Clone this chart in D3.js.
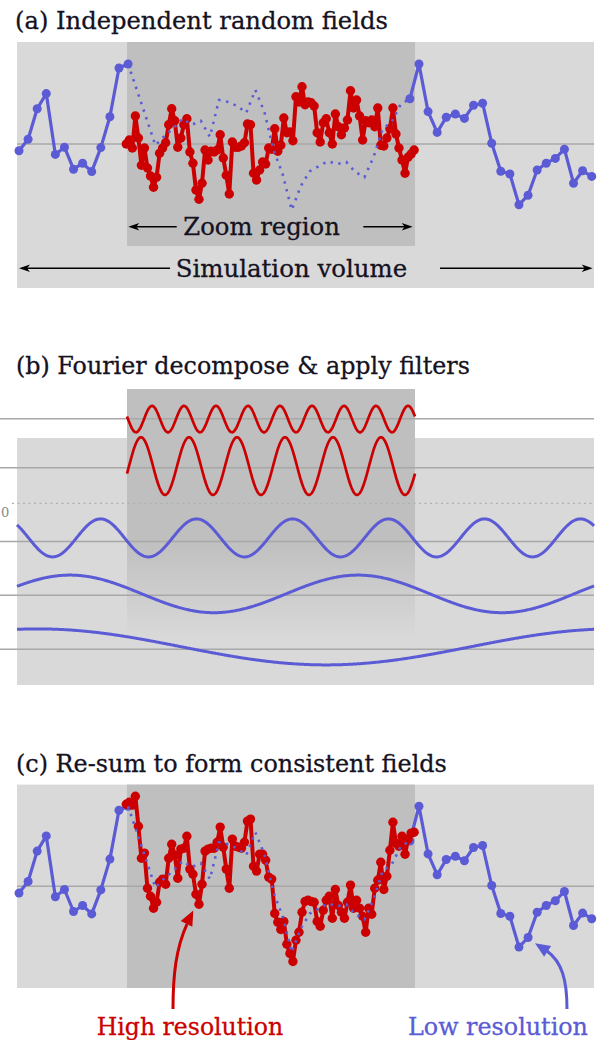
<!DOCTYPE html>
<html><head><meta charset="utf-8">
<script src="https://cdn.jsdelivr.net/npm/d3@7"></script>
<style>body{margin:0;background:#fff}svg{display:block}text{font-family:"DejaVu Serif",serif}</style>
</head><body><svg id="chart" width="615" height="1040"></svg>
<script>
// ---------------- DATA ----------------
// low-resolution field, one value per coarse cell (64 cells)
const coarseField = [-0.17,0.12,0.88,1.26,-0.26,-0.08,-0.63,-0.48,-0.69,-0.09,
  0.68,1.90,2.00,1.33,0.65,-0.03,0.20,0.40,0.63,0.48,
  0.58,0.18,1.10,1.05,0.95,0.78,1.35,0.80,-0.15,-0.75,
  -1.65,-1.05,-0.68,-0.55,-0.43,-0.50,-0.45,-0.70,-0.83,-0.33,
  0.38,0.55,1.00,1.13,2.00,0.81,0.29,0.67,0.75,0.64,
  0.97,1.02,0.02,-0.68,-0.75,-1.52,-1.28,-0.65,-0.48,-0.36,
  -0.13,-0.98,-0.67,-0.81];
// coarse cells shown dotted inside the zoom region
const zoomCoarseFirst = 12, zoomCoarseLast = 43;
// independent high-resolution field in the zoom region (96 fine cells)
const fineIndependent = [0.00,0.10,-0.10,0.70,0.15,-0.53,-0.10,-0.60,-0.80,-1.08,
  -0.83,-0.23,-0.10,0.03,0.48,0.88,0.58,-0.08,0.15,0.48,
  0.63,-0.20,-0.48,-1.15,-1.38,-0.98,-0.15,-0.40,-0.18,-0.20,
  -0.15,0.23,-0.35,-0.78,-1.25,0.05,-0.08,-0.08,-0.05,0.03,
  0.50,0.48,-0.73,-0.90,-0.65,-0.45,-0.50,-0.10,-0.13,0.38,
  -0.18,-0.03,0.65,0.28,0.30,0.08,1.18,1.05,1.43,0.98,
  1.05,1.03,0.95,0.28,0.05,0.53,0.63,0.28,0.00,0.75,
  0.43,0.23,0.40,0.60,1.33,0.90,1.10,0.70,0.10,0.58,
  0.53,0.60,0.43,0.90,-0.03,-0.05,0.15,0.38,0.90,0.25,
  -0.10,-0.40,-0.73,-0.33,-0.25,-0.15];
// consistent high-resolution field after re-summing
const fineConsistent = [2.05,2.10,2.03,2.25,1.50,0.70,0.83,-0.05,-0.25,-0.55,
  -0.40,0.10,0.18,0.05,0.70,1.05,0.78,0.20,0.93,0.95,
  1.25,0.43,0.30,-0.20,-0.45,0.05,0.88,0.93,0.95,0.95,
  1.10,1.48,0.98,0.43,-0.05,1.18,1.00,0.98,0.95,1.10,
  1.63,1.68,0.50,0.38,0.80,0.80,0.65,0.23,0.18,-0.68,
  -0.90,-1.08,-0.88,-1.45,-1.68,-1.88,-1.35,-1.15,-0.65,-0.38,
  -0.35,-0.38,-0.40,-0.88,-1.00,-0.60,-0.35,-0.25,-0.80,-0.08,
  -0.48,-0.65,-0.80,-0.40,0.03,-0.55,-0.35,-0.55,-0.75,-1.15,
  -0.55,-0.70,-0.05,0.15,0.60,-0.08,0.25,0.90,1.60,1.08,
  1.00,1.25,0.80,1.18,1.33,1.35];
// Fourier modes of panel (b): cycles per simulation volume, amplitude, peak position (volume fraction), mean offset
const modeKind    = ["high","high","low","low","low"];
const modeCycles  = [18, 12, 6, 2, 1];
const modeAmp     = [0.33, 0.72, 0.475, 0.47, 0.45];
const modePeak    = [0.2344, 0.2153, 0.145, 0.092, 0.0365];
const modeOffset  = [-0.01, 0.04, 0.09, 0.035, 0.06];
// texts
const titles = ["(a) Independent random fields","(b) Fourier decompose & apply filters","(c) Re-sum to form consistent fields"];
const labelZoom = "Zoom region", labelVolume = "Simulation volume";
const labelHigh = "High resolution", labelLow = "Low resolution", labelZero = "0";

// ---------------- LAYOUT ----------------
const BLUE = "#5b5bd6", RED = "#cc0000", LIGHT = "#d9d9d9", DARK = "#bfbfbf", LINE = "#a8a8a8";
const svg = d3.select("#chart");
const defs = svg.append("defs");
const volX0 = 17, volX1 = 594, zoomX0 = 127, zoomX1 = 415;
const xCoarse = d3.scaleLinear().domain([0, 63]).range([19, 591.7]);
const fineU = j => zoomCoarseFirst - 0.2 + j / 3;   // fine cell -> coarse coordinate
const xVol = d3.scaleLinear().domain([0, 1]).range([17, 593]);
const unit = 40;

function fitText(t, w) {
  const cur = t.node().getComputedTextLength();
  const fs = parseFloat(t.attr("font-size"));
  t.attr("font-size", fs * w / cur);
  return t;
}
function addText(str, x, y, w, color) {
  const c = color || "#15121f";
  const t = svg.append("text").attr("x", x).attr("y", y).attr("font-size", 24)
    .attr("fill", c).attr("stroke", c).attr("stroke-width", 0.3).text(str);
  return fitText(t, w);
}
function hArrow(x1, x2, y) {
  svg.append("line").attr("x1", x1).attr("x2", x2 - Math.sign(x2 - x1) * 6).attr("y1", y).attr("y2", y)
    .attr("stroke", "#000").attr("stroke-width", 1.5);
  const d = Math.sign(x2 - x1);
  svg.append("path").attr("d", `M${x2},${y} L${x2 - d * 11},${y - 3.8} L${x2 - d * 8},${y} L${x2 - d * 11},${y + 3.8} Z`)
    .attr("fill", "#000");
}

function fieldPanel(top, baseline, bottomLight, bottomDark, fine) {
  const y = d3.scaleLinear().domain([-1, 1]).range([baseline + unit, baseline - unit]);
  svg.append("rect").attr("x", volX0).attr("y", top).attr("width", volX1 - volX0).attr("height", bottomLight - top).attr("fill", LIGHT);
  svg.append("rect").attr("x", zoomX0).attr("y", top).attr("width", zoomX1 - zoomX0).attr("height", bottomDark - top).attr("fill", DARK);
  svg.append("line").attr("x1", volX0).attr("x2", volX1).attr("y1", y(0)).attr("y2", y(0)).attr("stroke", LINE).attr("stroke-width", 1.5);
  const coarsePts = coarseField.map((v, i) => ({ i, v }));
  const line = d3.line().x(d => xCoarse(d.i)).y(d => y(d.v));
  const left = coarsePts.filter(d => d.i <= zoomCoarseFirst);
  const right = coarsePts.filter(d => d.i >= zoomCoarseLast);
  const mid = coarsePts.filter(d => d.i >= zoomCoarseFirst && d.i <= zoomCoarseLast);
  [left, right].forEach(seg => {
    svg.append("path").attr("d", line(seg)).attr("fill", "none").attr("stroke", BLUE).attr("stroke-width", 3.2).attr("stroke-linejoin", "round");
    svg.append("g").selectAll("circle").data(seg).join("circle")
      .attr("cx", d => xCoarse(d.i)).attr("cy", d => y(d.v)).attr("r", 4.5).attr("fill", BLUE);
  });
  const finePts = fine.map((v, j) => ({ u: fineU(j), v }));
  const fline = d3.line().x(d => xCoarse(d.u)).y(d => y(d.v));
  svg.append("path").attr("d", fline(finePts)).attr("fill", "none").attr("stroke", RED).attr("stroke-width", 4).attr("stroke-linejoin", "round");
  svg.append("g").selectAll("circle").data(finePts).join("circle")
    .attr("cx", d => xCoarse(d.u)).attr("cy", d => y(d.v)).attr("r", 4.7).attr("fill", RED);
  svg.append("path").attr("d", line(mid)).attr("fill", "none").attr("stroke", BLUE).attr("stroke-width", 2.6)
    .attr("stroke-dasharray", "2.4 5.6");
  return y;
}

// ---- Panel (a)
addText(titles[0], 15, 28.5, 373);
fieldPanel(42, 144, 288, 246, fineIndependent);
hArrow(176.7, 128.3, 226.7);
hArrow(363.3, 412.7, 226.7);
addText(labelZoom, 183.3, 235, 156.7);
hArrow(170, 19, 268.3);
hArrow(440, 592.7, 268.3);
addText(labelVolume, 175.7, 277, 231.6);

// ---- Panel (b)
addText(titles[1], 16, 374, 454);
const grad = defs.append("linearGradient").attr("id", "fade").attr("x1", 0).attr("x2", 0).attr("y1", 0).attr("y2", 1);
grad.append("stop").attr("offset", 0).attr("stop-color", DARK).attr("stop-opacity", 1);
grad.append("stop").attr("offset", 0.6).attr("stop-color", DARK).attr("stop-opacity", 1);
grad.append("stop").attr("offset", 1).attr("stop-color", DARK).attr("stop-opacity", 0);
svg.append("rect").attr("x", volX0).attr("y", 438).attr("width", volX1 - volX0).attr("height", 685 - 438).attr("fill", LIGHT);
svg.append("rect").attr("x", zoomX0).attr("y", 389).attr("width", zoomX1 - zoomX0).attr("height", 640 - 389).attr("fill", "url(#fade)");
const rowY = [418.7, 467.7, 541.5, 595.3, 649.3];
rowY.forEach(ry => svg.append("line").attr("x1", 0).attr("x2", volX1).attr("y1", ry).attr("y2", ry).attr("stroke", LINE).attr("stroke-width", 1.5));
svg.append("line").attr("x1", 12).attr("x2", volX1).attr("y1", 503.3).attr("y2", 503.3).attr("stroke", "#b0b0b0").attr("stroke-width", 1.3).attr("stroke-dasharray", "2 3.5");
svg.append("text").attr("x", 1).attr("y", 516.5).attr("text-anchor", "start").attr("font-size", 13).attr("fill", "#888").text(labelZero);
modeCycles.forEach((c, k) => {
  const high = modeKind[k] === "high";
  const f0 = xVol.invert(high ? zoomX0 : volX0), f1 = xVol.invert(high ? zoomX1 : volX1);
  const fs = d3.range(0, 601).map(s => f0 + (f1 - f0) * s / 600);
  const yk = d3.scaleLinear().domain([-1, 1]).range([rowY[k] + unit, rowY[k] - unit]);
  const wl = d3.line().x(f => xVol(f)).y(f => yk(modeOffset[k] + modeAmp[k] * Math.cos(2 * Math.PI * c * (f - modePeak[k]))));
  svg.append("path").attr("d", wl(fs)).attr("fill", "none").attr("stroke", high ? RED : BLUE).attr("stroke-width", high ? 2.7 : 3);
});

// ---- Panel (c)
addText(titles[2], 16, 771.5, 431);
fieldPanel(784.6, 886.3, 988, 988, fineConsistent);
function curvedArrow(d, color, tip, back) {
  svg.append("path").attr("d", d).attr("fill", "none").attr("stroke", color).attr("stroke-width", 3);
  const [tx, ty] = tip, [bx, by] = back;
  const ang = Math.atan2(ty - by, tx - bx);
  const L = 15, W = 6.5;
  const b = [tx - L * Math.cos(ang), ty - L * Math.sin(ang)];
  const l = [b[0] + W * Math.cos(ang + Math.PI / 2), b[1] + W * Math.sin(ang + Math.PI / 2)];
  const r = [b[0] - W * Math.cos(ang + Math.PI / 2), b[1] - W * Math.sin(ang + Math.PI / 2)];
  svg.append("path").attr("d", `M${tx},${ty} L${l} L${r} Z`).attr("fill", color);
}
curvedArrow("M173,1009 C173,975 176,948 187,924", RED, [193.3, 910.5], [186, 925]);
curvedArrow("M567,1009 C567,980 562,962 547,951", BLUE, [535, 943.3], [547, 951]);
addText(labelHigh, 96.7, 1035, 186.6, RED);
addText(labelLow, 408, 1035, 180, BLUE);
</script></body></html>
